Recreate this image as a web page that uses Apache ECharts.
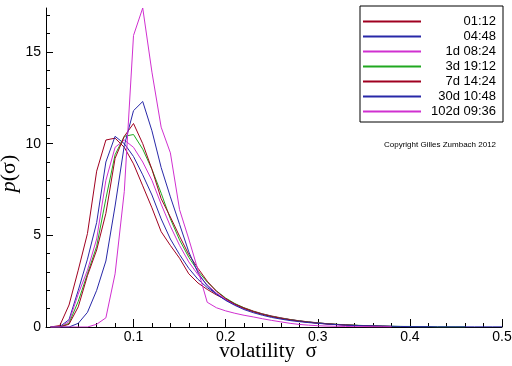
<!DOCTYPE html>
<html><head><meta charset="utf-8">
<script src="https://cdn.jsdelivr.net/npm/echarts@6/dist/echarts.min.js"></script>
<style>html,body{margin:0;padding:0;background:#fff}#c{width:512px;height:366px}</style>
</head><body><div id="c"></div>
<script>
// sigma grid (x values)
const xs = [0.01,0.02,0.03,0.04,0.05,0.06,0.07,0.08,0.09,0.10,
            0.11,0.12,0.13,0.14,0.15,0.16,0.17,0.18,0.19,0.20,
            0.21,0.22,0.23,0.24,0.25,0.26,0.27,0.28,0.29,0.30,
            0.31,0.32,0.33,0.34,0.35,0.36,0.37,0.38,0.39,0.40,
            0.41,0.42,0.43,0.44,0.45,0.46,0.47,0.48,0.49,0.50];

const seriesNames = ['01:12','04:48','1d 08:24','3d 19:12','7d 14:24','30d 10:48','102d 09:36'];

const p0112 = [0,0.08,1.2,3.1,5.1,8.5,10.2,10.3,9.8,8.9,
               7.7,6.5,5.2,4.45,3.75,2.9,2.4,2.05,1.75,1.5,
               1.25,1.05,0.87,0.72,0.6,0.5,0.41,0.34,0.28,0.23,
               0.18,0.14,0.11,0.09,0.07,0.05,0.04,0.03];
const p0448 = [0,0.02,0.4,2.0,3.7,5.7,9.0,10.4,10.0,9.3,
               8.3,7.2,5.9,4.8,3.95,3.2,2.6,2.15,1.8,1.48,
               1.22,1.0,0.84,0.7,0.58,0.48,0.4,0.33,0.27,0.22,
               0.18,0.14,0.11,0.09,0.07,0.05,0.04,0.03,0.02,0.02,
               0.01,0.01];
const p1d0824 = [0,0,0.3,1.8,3.1,4.8,8.0,9.8,10.2,9.8,
                 9.0,8.0,6.7,5.5,4.45,3.55,2.85,2.3,1.85,1.5,
                 1.22,1.0,0.83,0.69,0.57,0.47,0.39,0.32,0.26,0.21,
                 0.17,0.13,0.1,0.08,0.06,0.04,0.03,0.02];
const p3d1912 = [0,0,0.2,1.4,2.9,4.4,7.0,9.4,10.4,10.5,
                 9.7,8.6,7.3,5.9,4.75,3.8,3.05,2.45,1.97,1.58,
                 1.28,1.04,0.85,0.7,0.58,0.48,0.4,0.33,0.27,0.22,
                 0.18,0.15,0.12,0.1,0.08,0.06,0.05,0.04,0.03,0.03,
                 0.02,0.02,0.01,0.01,0.01,0.01];
const p7d1424 = [0,0,0.15,1.1,2.8,4.2,6.2,9.2,10.4,11.1,
                 10.0,8.6,7.0,6.0,4.95,3.95,3.2,2.5,1.95,1.55,
                 1.25,1.02,0.84,0.69,0.57,0.47,0.39,0.32,0.26,0.21,
                 0.17,0.14,0.11,0.09,0.07,0.05,0.04,0.03];
const p30d1048 = [0,0,0,0.2,0.8,2.0,3.6,6.6,9.9,11.8,
                  12.3,10.7,8.7,7.1,5.6,4.1,2.95,2.25,1.8,1.45,
                  1.18,0.95,0.78,0.64,0.52,0.43,0.35,0.29,0.24,0.2,
                  0.16,0.13,0.1,0.08,0.07,0.06,0.05,0.04,0.03,0.02,
                  0.02,0.02,0.01,0.01,0.01,0.01,0.01,0.01,0.01,0.01];
const p102d0936 = [0,0,0,0,0,0.15,0.5,2.9,7.4,15.9,
                   17.4,13.9,10.9,9.5,6.4,4.8,3.1,1.35,1.05,0.88,
                   0.75,0.64,0.55,0.45,0.36,0.28,0.2,0.14,0.1,0.07,
                   0.05,0.04,0.03,0.02,0.02,0.01,0.01,0.01];

const xMajorTicks = [0.1,0.2,0.3,0.4,0.5];
const yMajorTicks = [0,5,10,15];

const allValues = [p0112,p0448,p1d0824,p3d1912,p7d1424,p30d1048,p102d0936];
const colors = ['#a00020','#2828a8','#d030d0','#20a820','#a00020','#2828a8','#d030d0'];

const xMinorTicks = [];
for (let k = 1; k <= 25; k++) xMinorTicks.push(+(k*0.02).toFixed(2));
const yMinorTicks = [];
for (let k = 0; k <= 17; k++) yMinorTicks.push(k);

const chart = echarts.init(document.getElementById('c'), null, {renderer:'canvas'});
const series = allValues.map((vals, si) => ({
  name: seriesNames[si],
  type: 'line',
  xAxisIndex: 0, yAxisIndex: 0,
  symbol: 'none',
  smooth: false,
  color: colors[si],
  lineStyle: {width: 1, color: colors[si]},
  itemStyle: {color: colors[si]},
  data: vals.map((v, i) => [xs[i], v]),
  animation: false
}));

chart.setOption({
  animation: false,
  color: colors,
  grid: {left: 46, right: 10, top: 8, bottom: 39, containLabel: false, outerBoundsMode: 'none'},
  xAxis: [{
    type: 'value', min: 0.005, max: 0.5,
    axisLine: {lineStyle: {color: '#000', width: 1}},
    axisTick: {inside: true, length: 8, customValues: xMajorTicks, lineStyle: {color: '#000'}},
    axisLabel: {customValues: xMajorTicks, color: '#000', fontSize: 14, margin: 3,
                fontFamily: 'Liberation Sans', formatter: v => v.toFixed(1)},
    splitLine: {show: false},
    name: 'volatility  σ', nameLocation: 'middle', nameGap: 14, nameMoveOverlap: false,
    nameTextStyle: {fontFamily: 'Liberation Serif', fontSize: 21, color: '#000', padding: [0, 12, 0, 0]}
  }, {
    type: 'value', min: 0.005, max: 0.5, position: 'bottom',
    axisLine: {show: false},
    axisTick: {inside: true, length: 4, customValues: xMinorTicks, lineStyle: {color: '#000'}},
    axisLabel: {show: false}, splitLine: {show: false}
  }],
  yAxis: [{
    type: 'value', min: 0, max: 17.4,
    axisLine: {show: true, lineStyle: {color: '#000', width: 1}},
    axisTick: {show: true, inside: true, length: 7, customValues: yMajorTicks, lineStyle: {color: '#000'}},
    axisLabel: {customValues: yMajorTicks, color: '#000', fontSize: 14, margin: 5,
                fontFamily: 'Liberation Sans'},
    splitLine: {show: false},
    name: '{i|p}(σ)', nameLocation: 'middle', nameGap: 26, nameRotate: 90, nameMoveOverlap: false,
    nameTextStyle: {fontFamily: 'Liberation Serif', fontSize: 22, color: '#000', padding: [0, 12, 0, 0],
      rich: {i: {fontFamily: 'Liberation Serif', fontStyle: 'italic', fontSize: 22, color: '#000'}}}
  }, {
    type: 'value', min: 0, max: 17.4, position: 'left',
    axisLine: {show: false},
    axisTick: {show: true, inside: true, length: 4, customValues: yMinorTicks, lineStyle: {color: '#000'}},
    axisLabel: {show: false}, splitLine: {show: false}
  }],
  legend: {
    orient: 'vertical', left: 360, top: 6,
    padding: [9, 7, 4, 2], itemGap: 2, itemWidth: 58, itemHeight: 13,
    borderColor: '#000', borderWidth: 1, borderRadius: 0, backgroundColor: '#fff',
    itemStyle: {opacity: 0},
    data: seriesNames,
    formatter: n => '{a|' + n + '}',
    textStyle: {rich: {a: {width: 70, align: 'right', fontSize: 13, lineHeight: 13, color: '#000', fontFamily: 'Liberation Sans'}}}
  },
  graphic: [{
    type: 'text', left: 384, top: 141,
    style: {text: 'Copyright Gilles Zumbach 2012', fontSize: 8, fill: '#000', fontFamily: 'Liberation Sans'}
  }],
  series: series
});
</script>
</body></html>
